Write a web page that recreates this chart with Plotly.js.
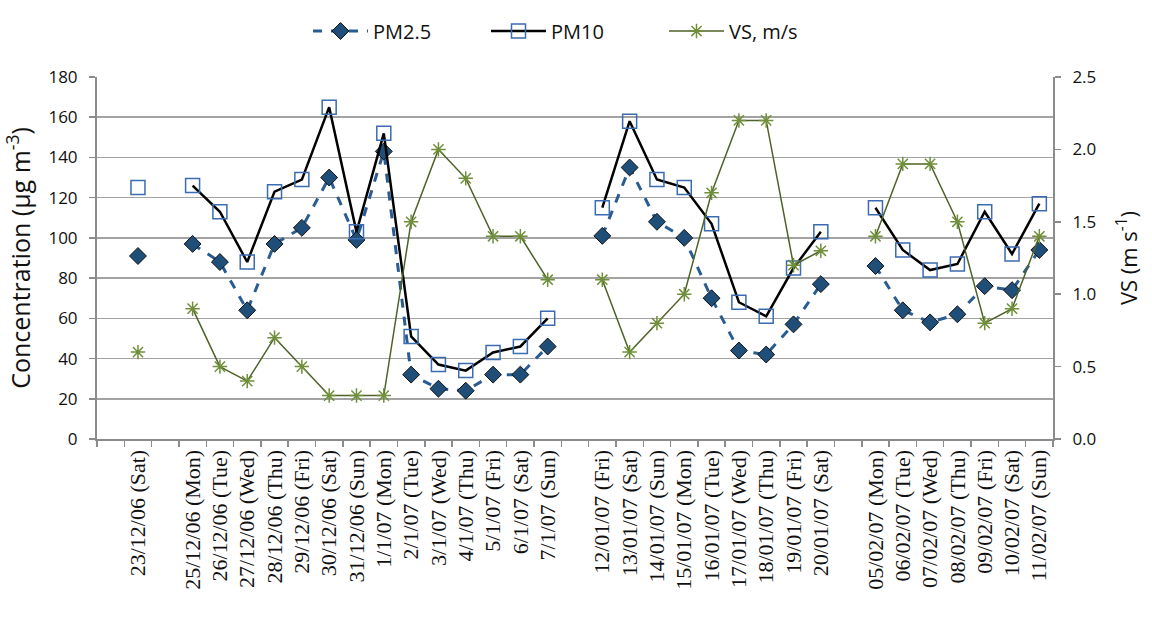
<!DOCTYPE html>
<html>
<head>
<meta charset="utf-8">
<script src="https://cdn.plot.ly/plotly-3.0.1.min.js"></script>
<style>html,body{margin:0;padding:0;background:#fff;}#chart{width:1152px;height:617px;}</style>
</head>
<body>
<div id="chart"></div>
<script>
// Categories (gap slots are invisible zero-width labels)
const categories = [
  "\u200b",
  "23/12/06 (Sat)",
  "\u200b\u200b",
  "25/12/06 (Mon)", "26/12/06 (Tue)", "27/12/06 (Wed)", "28/12/06 (Thu)", "29/12/06 (Fri)",
  "30/12/06 (Sat)", "31/12/06 (Sun)", "1/1/07 (Mon)", "2/1/07 (Tue)", "3/1/07 (Wed)",
  "4/1/07 (Thu)", "5/1/07 (Fri)", "6/1/07 (Sat)", "7/1/07 (Sun)",
  "\u200b\u200b\u200b",
  "12/01/07 (Fri)", "13/01/07 (Sat)", "14/01/07 (Sun)", "15/01/07 (Mon)", "16/01/07 (Tue)",
  "17/01/07 (Wed)", "18/01/07 (Thu)", "19/01/07 (Fri)", "20/01/07 (Sat)",
  "\u200b\u200b\u200b\u200b",
  "05/02/07 (Mon)", "06/02/07 (Tue)", "07/02/07 (Wed)", "08/02/07 (Thu)", "09/02/07 (Fri)",
  "10/02/07 (Sat)", "11/02/07 (Sun)"
];

const pm25 = [
  null, 91, null,
  97, 88, 64, 97, 105, 130, 99, 143, 32, 25, 24, 32, 32, 46,
  null,
  101, 135, 108, 100, 70, 44, 42, 57, 77,
  null,
  86, 64, 58, 62, 76, 74, 94
];

const pm10 = [
  null, 125, null,
  126, 113, 88, 123, 129, 165, 103, 152, 51, 37, 34, 43, 46, 60,
  null,
  115, 158, 129, 125, 107, 68, 61, 85, 103,
  null,
  115, 94, 84, 87, 113, 92, 117
];

const vs = [
  null, 0.6, null,
  0.9, 0.5, 0.4, 0.7, 0.5, 0.3, 0.3, 0.3, 1.5, 2.0, 1.8, 1.4, 1.4, 1.1,
  null,
  1.1, 0.6, 0.8, 1.0, 1.7, 2.2, 2.2, 1.2, 1.3,
  null,
  1.4, 1.9, 1.9, 1.5, 0.8, 0.9, 1.4
];

const traces = [
  {
    name: "PM2.5", x: categories, y: pm25, type: "scatter", mode: "lines+markers",
    line: {color: "#2A5C94", width: 3, dash: "dash"},
    marker: {symbol: "diamond", size: 13, color: "#1F4E79", line: {color: "#111", width: 1}},
    connectgaps: false
  },
  {
    name: "PM10", x: categories, y: pm10, type: "scatter", mode: "lines+markers",
    line: {color: "#000000", width: 2.5},
    marker: {symbol: "square-open", size: 14, color: "#3B6BB0", line: {width: 1.5}},
    connectgaps: false
  },
  {
    name: "VS, m/s", x: categories, y: vs, yaxis: "y2", type: "scatter", mode: "lines+markers",
    line: {color: "#4F6228", width: 1.5},
    marker: {symbol: "asterisk-open", size: 12, color: "#6F8F3A", line: {width: 1.5}},
    connectgaps: false
  }
];

const gridCol = "#A3A3A3";
const axisCol = "#8C8C8C";

const layout = {
  width: 1152, height: 617,
  margin: {l: 97, r: 99, t: 67, b: 178},
  paper_bgcolor: "#fff", plot_bgcolor: "#fff",
  showlegend: true,
  legend: {
    orientation: "h", x: 0.5, xanchor: "center", y: 1.127, yanchor: "middle",
    font: {family: "Open Sans, sans-serif", size: 20, color: "#111"},
    itemwidth: 55, entrywidth: 108, entrywidthmode: "pixels", tracegroupgap: 0
  },
  xaxis: {
    type: "category", categoryorder: "array", categoryarray: categories,
    range: [-0.5, categories.length - 0.5],
    tickmode: "linear", tick0: 0, dtick: 1,
    tickson: "boundaries", ticks: "outside", ticklen: 6, tickcolor: axisCol, tickwidth: 1.5,
    tickangle: -90,
    tickfont: {family: "Liberation Serif, Times New Roman, serif", size: 22, color: "#111"},
    showgrid: false, showline: true, linecolor: axisCol, linewidth: 2, zeroline: false
  },
  yaxis: {
    range: [0, 180], tickmode: "linear", tick0: 0, dtick: 20,
    ticks: "outside", ticklen: 6, tickcolor: axisCol, tickwidth: 1.5,
    showgrid: true, gridcolor: gridCol, gridwidth: 1.6,
    showline: true, linecolor: axisCol, linewidth: 2, zeroline: false,
    ticklabelstandoff: 8,
    tickfont: {family: "Open Sans, sans-serif", size: 17, color: "#111"},
    title: {text: "Concentration (µg m<sup>-3</sup>)", font: {family: "Open Sans, sans-serif", size: 25, color: "#111"}, standoff: 12}
  },
  yaxis2: {
    overlaying: "y", side: "right",
    range: [0, 2.5], tickmode: "linear", tick0: 0, dtick: 0.5, tickformat: ".1f",
    ticks: "outside", ticklen: 6, tickcolor: axisCol, tickwidth: 1.5,
    showgrid: false, showline: true, linecolor: axisCol, linewidth: 2, zeroline: false,
    ticklabelstandoff: 8,
    tickfont: {family: "Open Sans, sans-serif", size: 17, color: "#111"},
    title: {text: "VS (m s<sup>-1</sup>)", font: {family: "Open Sans, sans-serif", size: 22, color: "#111"}, standoff: 26}
  }
};

Plotly.newPlot("chart", traces, layout, {displayModeBar: false, staticPlot: true});
</script>
</body>
</html>
